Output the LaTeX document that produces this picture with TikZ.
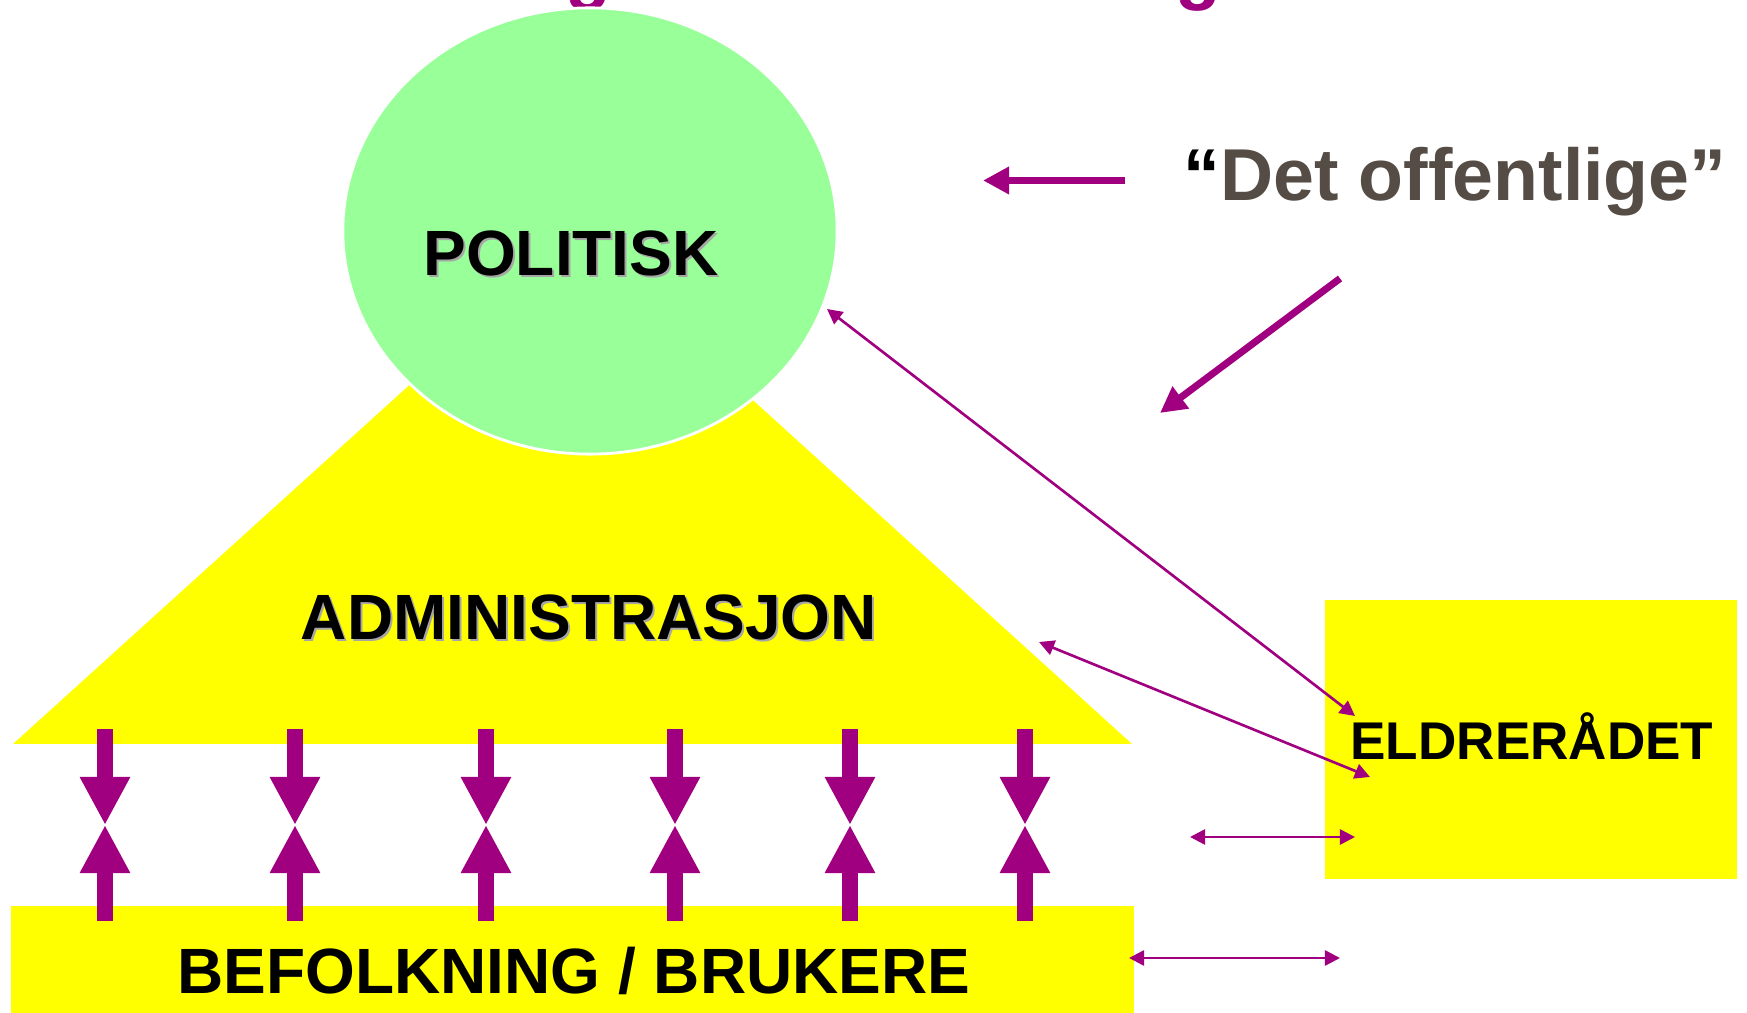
\documentclass[tikz,border=0pt]{standalone}
\usepackage{fontspec}
\setmainfont{Liberation Sans}
\usetikzlibrary{arrows.meta,shapes.geometric}

\definecolor{lilla}{RGB}{160,0,128}
\definecolor{lysgronn}{RGB}{153,255,153}
\definecolor{gul}{RGB}{255,255,0}
\definecolor{mork}{RGB}{85,77,69}

\newcommand{\storfont}{\fontsize{18.2pt}{20pt}\selectfont\bfseries}

\tikzset{
  tykkpil/.style={lilla,line width=2pt,-{Triangle[length=7.4pt,width=7.4pt]}},
  tynnpil/.style={lilla,line width=0.75pt,{Triangle[length=4.3pt,width=4.3pt]}-{Triangle[length=4.3pt,width=4.3pt]}},
  motpil/.style={lilla,line width=4.35pt,-{Triangle[length=13.7pt,width=13.4pt]}},
  tekst/.style={font=\storfont,anchor=base},
  skygge/.style={tekst,text=black!35},
}

\begin{document}
\begin{tikzpicture}[x=0.01cm,y=-0.01cm]
    \useasboundingbox (0,0) rectangle (1747,1013);
    % tittel, bare nedre del synes =========================
    \begin{scope}
      \clip (0,0) rectangle (1747,1013);
      \node[lilla,font=\fontsize{21.3pt}{22pt}\selectfont\bfseries,anchor=base] (tittelg1) at (588,-4) {g};
      \node[lilla,font=\fontsize{21.3pt}{22pt}\selectfont\bfseries,anchor=base] (tittelg2) at (1198,-4) {g};
    \end{scope}
    % figurer ==============================================
    \fill[gul] (13,744) -- (573,237) -- (1132,744) -- cycle;
    \node[ellipse,fill=lysgronn,draw=white,line width=0.8pt,minimum width=4.94cm,minimum height=4.46cm,inner sep=0] (politisk) at (590,231) {};
    \node[fill=gul,minimum width=11.23cm,minimum height=1.07cm,inner sep=0] (befolkning) at (572.5,959.5) {};
    \node[fill=gul,minimum width=4.12cm,minimum height=2.79cm,inner sep=0] (eldre) at (1531,739.5) {};
    % tekster ==============================================
    \node[skygge] at (573,278) {POLITISK};
    \node[tekst]  (politisktekst) at (571,276) {POLITISK};
    \node[skygge] at (591,641.5) {ADMINISTRASJON};
    \node[tekst]  (admtekst) at (589,639.5) {ADMINISTRASJON};
    \node[tekst]  (befolkningtekst) at (574,994) {BEFOLKNING / BRUKERE};
    \node[tekst,font=\fontsize{15.1pt}{17pt}\selectfont\bfseries] (eldretekst) at (1532,760) {ELDRERÅDET};
    \node[tekst,font=\fontsize{20.9pt}{22pt}\selectfont\bfseries,text=mork] (offentlig) at (1455,200.5) {{\color{black}“}Det offentlige”};
    % piler ================================================
    \coordinate (pilA1) at (1125,180.5); \coordinate (pilA2) at (983,180.5);
    \coordinate (pilB1) at (1340,278.5); \coordinate (pilB2) at (1160,413);
    \draw[tykkpil] (pilA1) -- (pilA2);
    \draw[tykkpil] (pilB1) -- (pilB2);
    \coordinate (polpunkt) at (827,309); \coordinate (eldrepunkt1) at (1355,716);
    \coordinate (admpunkt) at (1039,642); \coordinate (eldrepunkt2) at (1370,777);
    \coordinate (hpil1a) at (1190,837); \coordinate (hpil1b) at (1355,837);
    \coordinate (hpil2a) at (1129,958); \coordinate (hpil2b) at (1340,958);
    \draw[tynnpil] (polpunkt) -- (eldrepunkt1);
    \draw[tynnpil] (admpunkt) -- (eldrepunkt2);
    \draw[tynnpil] (hpil1a) -- (hpil1b);
    \draw[tynnpil] (hpil2a) -- (hpil2b);
    % motstaende piler mellom lagene
    \foreach \x [count=\i] in {105,295,486,675,850,1025} {
      \coordinate (topp\i) at (\x,729);
      \coordinate (midt\i) at (\x,825);
      \coordinate (bunn\i) at (\x,921);
      \draw[motpil] (topp\i) -- (midt\i);
      \draw[motpil] (bunn\i) -- (midt\i);
    }
\end{tikzpicture}
\end{document}
